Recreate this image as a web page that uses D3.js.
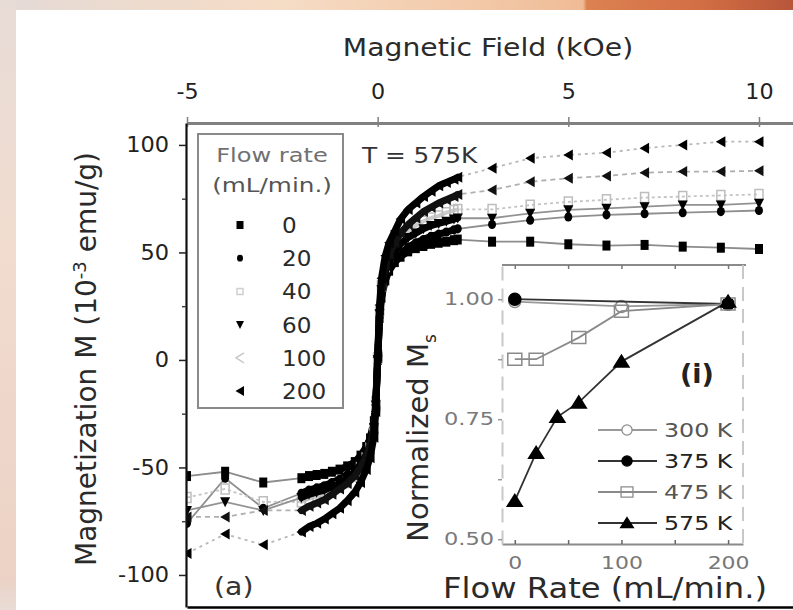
<!DOCTYPE html>
<html>
<head>
<meta charset="utf-8">
<script src="https://cdn.jsdelivr.net/npm/d3@7"></script>
<style>
  html, body { margin: 0; padding: 0; background: #fff; }
  svg { display: block; font-family: "DejaVu Sans", Verdana, sans-serif; }
</style>
</head>
<body>
<svg id="chart" width="793" height="610"></svg>
<script>
// ---------------- data: main hysteresis loops at T = 575 K ----------------
const flowRates = ["0", "20", "40", "60", "100", "200"];

// applied field (kOe): sparse negative points, dense loop core, sparse positive points
const fieldNeg = [-5, -4, -3];
const fieldDense = [-2.0, -1.8, -1.6, -1.4, -1.2, -1.0, -0.8, -0.6, -0.45, -0.3, -0.2, -0.1, -0.05,
                    0, 0.05, 0.1, 0.2, 0.3, 0.45, 0.6, 0.8, 1.0, 1.2, 1.4, 1.6, 1.8, 2.0, 2.1];
const fieldPos = [3, 4, 5, 6, 7, 8, 9, 10];

// magnetization (10^-3 emu/g) for each flow rate
const m0Neg = [-54, -52, -57];
const m0Dense = [-55, -54, -53.5, -53, -52, -51, -49.5, -47.5, -44.5, -40.5, -36.5, -28.5, -19,
                 0, 19.5, 29, 37, 41.5, 45.5, 48, 50.5, 52, 53, 54, 54.5, 55, 55.7, 56];
const m0Pos = [55, 55, 53.8, 53.2, 53.5, 52.7, 52.2, 51.6];

const m20Neg = [-76, -55, -69];
const m20Dense = [-62, -60.5, -59.5, -58.5, -57, -55.5, -53.5, -50.5, -47, -43, -38.5, -30.5, -20.5,
                  -1, 20, 30, 38, 42, 46.5, 49.5, 52.5, 54.5, 56, 57.5, 58.5, 59.5, 60.5, 61];
const m20Pos = [63, 65, 66.5, 67.5, 68, 68.5, 69, 69.5];

const m40Neg = [-64, -60, -66];
const m40Dense = [-66, -64.5, -63.5, -62.5, -61, -59, -57, -54, -50, -45.5, -41, -32.5, -22,
                  1, 23, 34.5, 43.5, 48.5, 53, 57, 60, 62.5, 64.5, 66, 67, 68.5, 69.5, 70];
const m40Pos = [70, 72, 73.5, 74.5, 75.5, 76, 76.5, 77];

const m60Neg = [-70, -66, -70];
const m60Dense = [-64, -62.5, -61.5, -60.5, -59, -57.5, -55, -52, -48.5, -44, -39.5, -31.5, -21,
                  0, 21.5, 32.5, 41, 45.5, 50, 54, 57, 59, 61, 62.5, 63.5, 64.5, 65.5, 66];
const m60Pos = [65.9, 68.2, 69.8, 70.5, 71.3, 72.1, 72.1, 72.9];

const m100Neg = [-73, -73, -70];
const m100Dense = [-70, -68, -66.5, -65, -62.5, -60, -57.5, -54, -50, -45, -40, -31.5, -21,
                   1, 23, 34.5, 44, 49, 54.5, 59, 63, 66, 69, 71, 73, 74.5, 76, 77];
const m100Pos = [79, 82.9, 84.5, 85.6, 87.1, 87.6, 87.6, 88];

const m200Neg = [-90, -81, -86];
const m200Dense = [-80, -77.5, -76, -74, -71.5, -69, -65.5, -61.5, -57, -51, -45.5, -36, -24,
                   2, 25.5, 38, 48.5, 54.5, 60, 65.5, 70, 73, 76, 78.5, 81, 82.5, 84, 85];
const m200Pos = [89.2, 93.8, 95.3, 96.4, 98.5, 100, 101.5, 101.5];

const topTicks = [-5, 0, 5, 10];
const leftTicks = [-100, -50, 0, 50, 100];
const leftMinor = [-75, -25, 25, 75];

// ---------------- data: inset, normalized saturation magnetization ----------------
const insetTemps = ["300 K", "375 K", "475 K", "575 K"];
const flow300 = [0, 100, 200];
const ms300 = [0.995, 0.985, 0.99];
const flow375 = [0, 200];
const ms375 = [1.0, 0.99];
const flow475 = [0, 20, 60, 100, 200];
const ms475 = [0.875, 0.875, 0.92, 0.975, 0.99];
const flow575 = [0, 20, 40, 60, 100, 200];
const ms575 = [0.58, 0.68, 0.755, 0.785, 0.87, 0.995];
const insetYTicks = [0.5, 0.625, 0.75, 0.875, 1.0];
const insetXTicks = [0, 50, 100, 150, 200];

// ---------------- drawing ----------------
const svg = d3.select("#chart");
const defs = svg.append("defs");

// widen glyphs horizontally about each text's own anchor point
function widen(sel, sx) {
  sel.each(function () {
    const t = d3.select(this);
    const tx = +t.attr("x") || 0, ty = +t.attr("y") || 0;
    t.attr("x", 0).attr("y", 0).attr("transform", `translate(${tx},${ty}) scale(${sx},1)`);
  });
  return sel;
}

// page backdrop bands
const gTop = defs.append("linearGradient").attr("id", "bandTop");
[[0, "#e4dad6"], [0.36, "#f6dcc5"], [0.62, "#f2c7a6"], [0.735, "#efbb96"],
 [0.74, "#db8152"], [0.88, "#d36f44"], [1, "#b7563a"]]
  .forEach(([o, c]) => gTop.append("stop").attr("offset", o).attr("stop-color", c));
const gLeft = defs.append("linearGradient").attr("id", "bandLeft")
  .attr("x1", 0).attr("y1", 0).attr("x2", 0).attr("y2", 1);
[[0, "#e8dcd7"], [0.4, "#f1dccf"], [0.95, "#ebd2c5"], [1, "#e9dcd6"]]
  .forEach(([o, c]) => gLeft.append("stop").attr("offset", o).attr("stop-color", c));
svg.append("rect").attr("x", 0).attr("y", 0).attr("width", 793).attr("height", 10).attr("fill", "url(#bandTop)");
svg.append("rect").attr("x", 0).attr("y", 0).attr("width", 16).attr("height", 610).attr("fill", "url(#bandLeft)");

// main scales
const x = d3.scaleLinear().domain([-5, 10.9]).range([187, 793.3]);
const y = d3.scaleLinear().domain([-114.9, 110.2]).range([607, 123]);

defs.append("clipPath").attr("id", "plotClip")
  .append("rect").attr("x", 187).attr("y", 124).attr("width", 610).attr("height", 483);

const SHAPES = {
  square: "M-4,-5H4V5H-4Z",
  circle: "M-4,0A4,4.6 0 1,0 4,0A4,4.6 0 1,0 -4,0Z",
  triDown: "M-5,-4.5H5L0,5.5Z",
  triLeft: "M-5,0L4.5,-5.5V5.5Z"
};

const series = [
  { label: flowRates[0], neg: m0Neg, dense: m0Dense, pos: m0Pos, shape: "square", fill: "#000", stroke: "none", band: "#000", line: "#8c8c8c", dash: null },
  { label: flowRates[1], neg: m20Neg, dense: m20Dense, pos: m20Pos, shape: "circle", fill: "#000", stroke: "none", band: "#000", line: "#8f8f8f", dash: null },
  { label: flowRates[2], neg: m40Neg, dense: m40Dense, pos: m40Pos, shape: "square", fill: "none", stroke: "#bdbdbd", band: "#cacaca", line: "#c4c4c4", dash: "3,3" },
  { label: flowRates[3], neg: m60Neg, dense: m60Dense, pos: m60Pos, shape: "triDown", fill: "#000", stroke: "none", band: "#000", line: "#939393", dash: null },
  { label: flowRates[4], neg: m100Neg, dense: m100Dense, pos: m100Pos, shape: "triLeft", fill: "#111", stroke: "none", band: "#111", line: "#b0b0b0", dash: "5,4" },
  { label: flowRates[5], neg: m200Neg, dense: m200Dense, pos: m200Pos, shape: "triLeft", fill: "#000", stroke: "none", band: "#000", line: "#b8b8b8", dash: "3,4" }
];

const plot = svg.append("g").attr("clip-path", "url(#plotClip)");
const line = d3.line().x(d => x(d[0])).y(d => y(d[1]));

series.forEach(s => {
  const sparseNeg = fieldNeg.map((h, i) => [h, s.neg[i]]);
  const dense = fieldDense.map((h, i) => [h, s.dense[i]]);
  const sparsePos = fieldPos.map((h, i) => [h, s.pos[i]]);
  const all = sparseNeg.concat(dense, sparsePos);
  const g = plot.append("g");
  g.append("path").attr("d", line(all)).attr("fill", "none")
    .attr("stroke", s.line).attr("stroke-width", 1.8)
    .attr("stroke-dasharray", s.dash);
  g.append("path").attr("d", line(dense)).attr("fill", "none")
    .attr("stroke", s.band).attr("stroke-width", s.fill === "none" ? 4 : 7)
    .attr("stroke-linejoin", "round").attr("stroke-linecap", "round");
  g.selectAll("path.mk").data(all).join("path").attr("class", "mk")
    .attr("d", SHAPES[s.shape])
    .attr("transform", d => `translate(${x(d[0])},${y(d[1])})`)
    .attr("fill", s.fill).attr("stroke", s.stroke).attr("stroke-width", 1.5);
});

// top axis (magnetic field)
const axTop = svg.append("g").attr("transform", "translate(0,123)")
  .call(d3.axisTop(x).tickValues(topTicks).tickSize(8).tickSizeOuter(0).tickPadding(16));
axTop.select(".domain").attr("stroke", "#808080").attr("stroke-width", 3);
axTop.selectAll(".tick line").attr("stroke", "#808080").attr("stroke-width", 1.5).attr("y2", -6).attr("y1", 4);
widen(axTop.selectAll(".tick text").attr("font-size", 21).attr("fill", "#222")
  .attr("font-family", "DejaVu Sans, sans-serif").text(d => d < 0 ? "-" + Math.abs(d) : d), 1.06);

// left axis (magnetization)
const axLeft = svg.append("g").attr("transform", "translate(186,0)")
  .call(d3.axisLeft(y).tickValues(leftTicks).tickSize(7).tickSizeOuter(0).tickPadding(10)
    .tickFormat(d => d < 0 ? "-" + Math.abs(d) : d));
axLeft.select(".domain").attr("stroke", "#111").attr("stroke-width", 2.2);
axLeft.selectAll(".tick line").attr("stroke", "#222").attr("stroke-width", 1.5);
widen(axLeft.selectAll(".tick text").attr("font-size", 21).attr("fill", "#222")
  .attr("font-family", "DejaVu Sans, sans-serif"), 1.07);
svg.append("g").attr("transform", "translate(186,0)")
  .call(d3.axisLeft(y).tickValues(leftMinor).tickSize(4).tickFormat(""))
  .call(g => g.select(".domain").remove())
  .selectAll(".tick line").attr("stroke", "#444").attr("stroke-width", 1.5);

// bottom frame
svg.append("g").attr("transform", "translate(0,607)")
  .call(d3.axisBottom(x).tickValues([]).tickSizeOuter(0))
  .select(".domain").attr("stroke", "#000").attr("stroke-width", 2.5);

// axis titles
widen(svg.append("text").attr("x", 488).attr("y", 56).attr("text-anchor", "middle")
  .attr("font-size", 25).attr("fill", "#2a2a2a").text("Magnetic Field (kOe)"), 1.13);
const yTitle = svg.append("text").attr("transform", "translate(96,359) rotate(-90)")
  .attr("text-anchor", "middle").attr("font-size", 28).attr("fill", "#2a2a2a");
yTitle.append("tspan").text("Magnetization M (10");
yTitle.append("tspan").attr("dy", -10).attr("font-size", 18).text("-3");
yTitle.append("tspan").attr("dy", 10).text(" emu/g)");

// legend
const lg = svg.append("g");
lg.append("rect").attr("x", 198).attr("y", 134).attr("width", 145).attr("height", 274)
  .attr("fill", "#fff").attr("stroke", "#8a8a8a").attr("stroke-width", 2);
widen(lg.append("text").attr("x", 272).attr("y", 162).attr("text-anchor", "middle")
  .attr("font-size", 19).attr("fill", "#707070").text("Flow rate"), 1.27);
widen(lg.append("text").attr("x", 272).attr("y", 192).attr("text-anchor", "middle")
  .attr("font-size", 19).attr("fill", "#555").text("(mL/min.)"), 1.3);
const legendSym = [
  { d: "M-3.5,-4H3.5V4H-3.5Z", fill: "#000", stroke: "none" },
  { d: "M-3,0A3,3.4 0 1,0 3,0A3,3.4 0 1,0 -3,0Z", fill: "#000", stroke: "none" },
  { d: "M-3,-3H3V3H-3Z", fill: "none", stroke: "#cfcfcf" },
  { d: "M-4,-3.5H4L0,4.5Z", fill: "#000", stroke: "none" },
  { d: "M4,-5L-4,0L4,5", fill: "none", stroke: "#c8c8c8" },
  { d: "M-4.5,0L4,-5V5Z", fill: "#000", stroke: "none" }
];
const legY = d3.scalePoint().domain(flowRates).range([225, 391]);
series.forEach((s, i) => {
  lg.append("path").attr("d", legendSym[i].d)
    .attr("transform", `translate(240,${legY(s.label)})`)
    .attr("fill", legendSym[i].fill).attr("stroke", legendSym[i].stroke).attr("stroke-width", 1.5);
  widen(lg.append("text").attr("x", 282).attr("y", legY(s.label) + 8)
    .attr("font-size", 22).attr("fill", "#2a2a2a").text(s.label), 1.05);
});

widen(svg.append("text").attr("x", 362).attr("y", 163).attr("font-size", 21)
  .attr("fill", "#333").text("T = 575K"), 1.18);
widen(svg.append("text").attr("x", 214).attr("y", 595).attr("font-size", 24)
  .attr("fill", "#333").text("(a)"), 1.18);

// ---------------- inset ----------------
const xi = d3.scaleLinear().domain([-12, 214]).range([502, 743]);
const yi = d3.scaleLinear().domain([0.49, 1.07]).range([544, 265.6]);
const inset = svg.append("g");

// frame
inset.append("line").attr("x1", 502).attr("x2", 746).attr("y1", 265).attr("y2", 265)
  .attr("stroke", "#8a8a8a").attr("stroke-width", 2);
inset.append("g").attr("transform", "translate(0,265)")
  .call(d3.axisTop(xi).tickValues(insetXTicks).tickSize(-4).tickFormat(""))
  .call(g => g.select(".domain").remove())
  .selectAll(".tick line").attr("stroke", "#777").attr("stroke-width", 1.5);
const axBi = inset.append("g").attr("transform", "translate(0,544)")
  .call(d3.axisBottom(xi).tickValues(insetXTicks).tickSize(-4).tickSizeOuter(0).tickPadding(12)
    .tickFormat(d => d % 100 === 0 ? d : ""));
axBi.select(".domain").attr("stroke", "#8a8a8a").attr("stroke-width", 2);
axBi.selectAll(".tick line").attr("stroke", "#666").attr("stroke-width", 1.5);
widen(axBi.selectAll(".tick text").attr("font-size", 18).attr("fill", "#777")
  .attr("font-family", "DejaVu Sans, sans-serif"), 1.22);
const axLi = inset.append("g").attr("transform", "translate(502,0)")
  .call(d3.axisLeft(yi).tickValues(insetYTicks).tickSize(4).tickSizeOuter(0).tickPadding(4)
    .tickFormat(d => (d * 100) % 25 === 0 ? d3.format(".2f")(d) : ""));
axLi.select(".domain").attr("stroke", "#c8c8c8").attr("stroke-width", 2).attr("stroke-dasharray", "14,8");
axLi.selectAll(".tick line").attr("stroke", "#999").attr("stroke-width", 1.5);
widen(axLi.selectAll(".tick text").attr("font-size", 18).attr("fill", "#7a7a7a")
  .attr("font-family", "DejaVu Sans, sans-serif"), 1.25);
inset.append("line").attr("x1", 743).attr("x2", 743).attr("y1", 265).attr("y2", 544)
  .attr("stroke", "#c8c8c8").attr("stroke-width", 2).attr("stroke-dasharray", "14,8");

const iLine = d3.line().x(d => xi(d[0])).y(d => yi(d[1]));
const insetSeries = [
  { label: insetTemps[0], f: flow300, v: ms300, line: "#9a9a9a", sym: "circle", fill: "#fff", stroke: "#8a8a8a" },
  { label: insetTemps[1], f: flow375, v: ms375, line: "#333", sym: "circle", fill: "#000", stroke: "#000" },
  { label: insetTemps[2], f: flow475, v: ms475, line: "#8a8a8a", sym: "square", fill: "none", stroke: "#8a8a8a" },
  { label: insetTemps[3], f: flow575, v: ms575, line: "#333", sym: "tri", fill: "#000", stroke: "#000" }
];
const iSym = {
  circle: "M-6,0A6,6 0 1,0 6,0A6,6 0 1,0 -6,0Z",
  square: "M-7,-6H7V6H-7Z",
  tri: "M0,-6.5L7.5,5.5H-7.5Z"
};
insetSeries.forEach(s => {
  const pts = s.f.map((f, i) => [f, s.v[i]]);
  inset.append("path").attr("d", iLine(pts)).attr("fill", "none")
    .attr("stroke", s.line).attr("stroke-width", 1.8);
  inset.selectAll(null).data(pts).join("path").attr("d", iSym[s.sym])
    .attr("transform", d => `translate(${xi(d[0])},${yi(d[1])})`)
    .attr("fill", s.fill).attr("stroke", s.stroke).attr("stroke-width", 1.5);
});

// inset legend
const iLegY = d3.scalePoint().domain(insetTemps).range([430, 523]);
insetSeries.forEach(s => {
  const yy = iLegY(s.label);
  inset.append("line").attr("x1", 598).attr("x2", 657).attr("y1", yy).attr("y2", yy)
    .attr("stroke", s.line).attr("stroke-width", 1.8);
  inset.append("path").attr("d", iSym[s.sym]).attr("transform", `translate(627,${yy}) scale(0.85)`)
    .attr("fill", s.fill).attr("stroke", s.stroke).attr("stroke-width", 1.5);
  widen(inset.append("text").attr("x", 664).attr("y", yy + 7).attr("font-size", 19)
    .attr("fill", s.stroke === "#8a8a8a" ? "#555" : "#222").text(s.label), 1.25);
});

inset.append("text").attr("x", 680).attr("y", 383).attr("font-size", 27)
  .attr("font-weight", "bold").attr("fill", "#222").text("(i)");

const iy = inset.append("text").attr("transform", "translate(428,438) rotate(-90)")
  .attr("text-anchor", "middle").attr("font-size", 29).attr("fill", "#2a2a2a");
iy.append("tspan").text("Normalized M");
iy.append("tspan").attr("dy", 8).attr("font-size", 17).text("s");
widen(inset.append("text").attr("x", 605).attr("y", 598).attr("text-anchor", "middle")
  .attr("font-size", 28).attr("fill", "#2a2a2a").text("Flow Rate (mL/min.)"), 1.15);
</script>
</body>
</html>
